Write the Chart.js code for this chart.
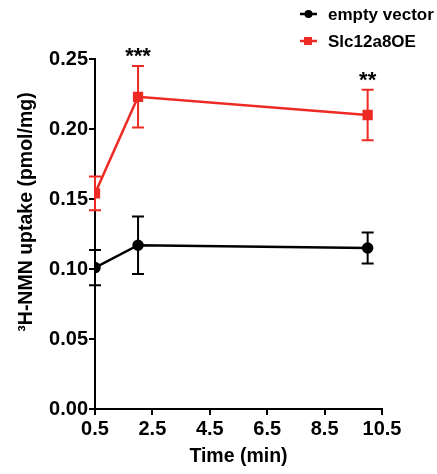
<!DOCTYPE html>
<html>
<head>
<meta charset="utf-8">
<script src="https://cdn.jsdelivr.net/npm/chart.js@4"></script>
<style>
  html, body { margin: 0; padding: 0; background: #fff; }
  #wrap { width: 437px; height: 474px; }
</style>
</head>
<body>
<div id="wrap"><canvas id="uptake"></canvas></div>
<script>
const timePoints = [0.5, 2, 10]
const emptyVector = [0.101, 0.117, 0.115]
const emptyVectorErr = [0.0126, 0.0205, 0.011]
const slcOE = [0.154, 0.223, 0.210]
const slcOEErr = [0.012, 0.022, 0.018]
const sigTimes = [2, 10]
const sigLabels = ['***', '**']
const xTicks = [0.5, 2.5, 4.5, 6.5, 8.5, 10.5]
const yTicks = [0, 0.05, 0.10, 0.15, 0.20, 0.25]
const yTitle = '³H-NMN uptake (pmol/mg)'

const RED = '#ee2a24'
const FONT = 'Liberation Sans, Arial, Helvetica, sans-serif'

const toPoints = (ys) => timePoints.map((t, i) => ({x: t, y: ys[i]}))

// error bars + significance stars, placed through the chart scales
const errorBars = {
    id: 'errorBars',
    beforeDatasetsDraw(chart) {
        const {ctx, scales: {x, y}} = chart
        chart.data.datasets.forEach(ds => {
            ctx.save()
            ctx.strokeStyle = ds.borderColor
            ctx.lineWidth = 2
            ds.data.forEach((p, i) => {
                const px = x.getPixelForValue(p.x)
                const top = y.getPixelForValue(p.y + ds.err[i])
                const bot = y.getPixelForValue(p.y - ds.err[i])
                ctx.beginPath()
                ctx.moveTo(px, top); ctx.lineTo(px, bot)
                ctx.moveTo(px - 6, top); ctx.lineTo(px + 6, top)
                ctx.moveTo(px - 6, bot); ctx.lineTo(px + 6, bot)
                ctx.stroke()
            })
            ctx.restore()
        })
    },
    afterDraw(chart) {
        const {ctx, scales: {x, y}} = chart
        ctx.save()
        ctx.fillStyle = '#000'
        ctx.font = 'bold 22px ' + FONT
        ctx.textAlign = 'center'
        ctx.textBaseline = 'middle'
        sigTimes.forEach((t, k) => {
            const i = timePoints.indexOf(t)
            const px = x.getPixelForValue(t)
            const py = y.getPixelForValue(slcOE[i] + slcOEErr[i])
            ctx.fillText(sigLabels[k], px, py - 9)
        })

        // y title, a bit above the chart area centre like the original
        ctx.save()
        ctx.translate(27, 212)
        ctx.rotate(-Math.PI / 2)
        ctx.font = 'bold 19.5px ' + FONT
        ctx.fillText(yTitle, 0, 0)
        ctx.restore()

        // legend, top right
        chart.data.datasets.forEach((ds, k) => {
            const ly = 14 + k * 27
            ctx.strokeStyle = ds.borderColor
            ctx.fillStyle = ds.borderColor
            ctx.lineWidth = 2.5
            ctx.beginPath()
            ctx.moveTo(300, ly); ctx.lineTo(317, ly)
            ctx.stroke()
            if (ds.pointStyle === 'rect') {
                ctx.fillRect(304, ly - 4, 8, 8)
            } else {
                ctx.beginPath()
                ctx.arc(308.5, ly, 4, 0, Math.PI * 2)
                ctx.fill()
            }
            ctx.fillStyle = '#000'
            ctx.font = 'bold 17px ' + FONT
            ctx.textAlign = 'left'
            ctx.fillText(ds.label, 328, ly + 1)
        })
        ctx.restore()
    }
}

const axisStyle = {
    border: {display: true, color: '#000', width: 2},
    grid: {display: true, drawOnChartArea: false, drawTicks: true, tickLength: 6, color: '#000', lineWidth: 2},
}

new Chart(document.getElementById('uptake').getContext('2d'), {
    type: 'line',
    data: {
        datasets: [{
            label: 'empty vector',
            data: toPoints(emptyVector),
            err: emptyVectorErr,
            borderColor: '#000',
            backgroundColor: '#000',
            borderWidth: 2.5,
            pointRadius: 4.5,
            pointStyle: 'circle',
            tension: 0
        }, {
            label: 'Slc12a8OE',
            data: toPoints(slcOE),
            err: slcOEErr,
            borderColor: RED,
            backgroundColor: RED,
            borderWidth: 2.5,
            pointRadius: 5.5,
            pointStyle: 'rect',
            tension: 0
        }]
    },
    options: {
        responsive: true,
        maintainAspectRatio: false,
        animation: false,
        layout: {padding: {top: 59, right: 55, left: 0, bottom: 0}},
        plugins: {
            legend: {display: false},
            tooltip: {enabled: false}
        },
        scales: {
            x: {
                type: 'linear',
                min: 0.5,
                max: 10.5,
                afterFit: (s) => { s.height = 65 },
                afterBuildTicks: (s) => { s.ticks = xTicks.map(v => ({value: v})) },
                ...axisStyle,
                ticks: {
                    color: '#000',
                    padding: 2,
                    maxRotation: 0,
                    font: {family: FONT, size: 20, weight: 'bold'},
                    callback: (v) => v.toFixed(1)
                },
                title: {
                    display: true,
                    text: 'Time (min)',
                    color: '#000',
                    padding: {top: 0, bottom: 6},
                    font: {family: FONT, size: 19.5, weight: 'bold'}
                }
            },
            y: {
                min: 0,
                max: 0.25,
                afterFit: (s) => { s.width = 95 },
                afterBuildTicks: (s) => { s.ticks = yTicks.map(v => ({value: v})) },
                ...axisStyle,
                ticks: {
                    color: '#000',
                    padding: 1,
                    font: {family: FONT, size: 20, weight: 'bold'},
                    callback: (v) => v.toFixed(2)
                },
                title: {display: false}
            }
        }
    },
    plugins: [errorBars]
})
</script>
</body>
</html>
